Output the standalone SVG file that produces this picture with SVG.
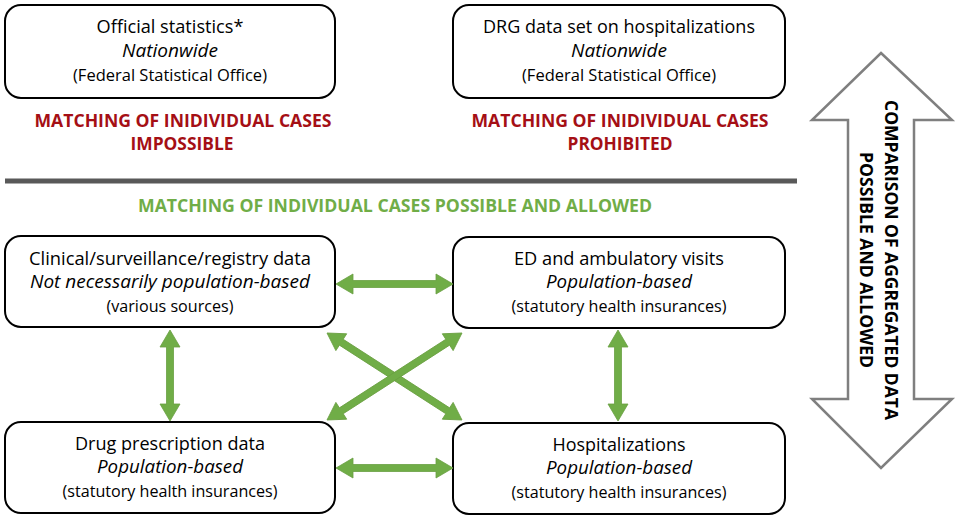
<svg xmlns="http://www.w3.org/2000/svg" width="957" height="519" viewBox="0 0 957 519">
<style>
  .box { fill: #ffffff; stroke: #000000; stroke-width: 2; }
  .t { font-family: "Open Sans", "Liberation Sans", sans-serif; fill: #000000; text-anchor: middle; }
  .m { font-size: 19px; }
  .s { font-size: 17px; }
  .i { font-style: italic; }
  .red { font-family: "Open Sans", "Liberation Sans", sans-serif; font-weight: bold; font-size: 18px; fill: #A50F15; text-anchor: middle; }
  .grn { font-family: "Open Sans", "Liberation Sans", sans-serif; font-weight: bold; font-size: 18px; fill: #70AD47; text-anchor: middle; }
  .gray { font-family: "Open Sans", "Liberation Sans", sans-serif; font-weight: bold; font-size: 18px; fill: #000000; text-anchor: middle; }
  .ga { fill: #70AD47; stroke: #6A9F42; stroke-width: 0.8; }
</style>

<g id="official-statistics">
  <rect class="box" x="5" y="5" width="330" height="93" rx="16"/>
  <text class="t m" x="170" y="33" textLength="147" lengthAdjust="spacingAndGlyphs">Official statistics*</text>
  <text class="t m i" x="170" y="57" textLength="96" lengthAdjust="spacingAndGlyphs">Nationwide</text>
  <text class="t s" x="170" y="81" textLength="194" lengthAdjust="spacingAndGlyphs">(Federal Statistical Office)</text>
</g>

<g id="drg-data">
  <rect class="box" x="453" y="5" width="332" height="93" rx="16"/>
  <text class="t m" x="619" y="33" textLength="272" lengthAdjust="spacingAndGlyphs">DRG data set on hospitalizations</text>
  <text class="t m i" x="619" y="57" textLength="96" lengthAdjust="spacingAndGlyphs">Nationwide</text>
  <text class="t s" x="619" y="81" textLength="194" lengthAdjust="spacingAndGlyphs">(Federal Statistical Office)</text>
</g>

<g id="label-impossible">
  <text class="red" x="183" y="127" textLength="297" lengthAdjust="spacingAndGlyphs">MATCHING OF INIDIVIDUAL CASES</text>
  <text class="red" x="182" y="150" textLength="103" lengthAdjust="spacingAndGlyphs">IMPOSSIBLE</text>
</g>

<g id="label-prohibited">
  <text class="red" x="620" y="127" textLength="297" lengthAdjust="spacingAndGlyphs">MATCHING OF INIDIVIDUAL CASES</text>
  <text class="red" x="620" y="150" textLength="105" lengthAdjust="spacingAndGlyphs">PROHIBITED</text>
</g>

<g id="divider">
  <line x1="5" y1="181" x2="797" y2="181" stroke="#595959" stroke-width="5"/>
</g>

<g id="label-possible">
  <text class="grn" x="395" y="212" textLength="514" lengthAdjust="spacingAndGlyphs">MATCHING OF INDIVIDUAL CASES POSSIBLE AND ALLOWED</text>
</g>

<g id="clinical">
  <rect class="box" x="5" y="236" width="330" height="91" rx="16"/>
  <text class="t m" x="170" y="265" textLength="282" lengthAdjust="spacingAndGlyphs">Clinical/surveillance/registry data</text>
  <text class="t m i" x="170" y="288" textLength="280" lengthAdjust="spacingAndGlyphs">Not necessarily population-based</text>
  <text class="t s" x="170" y="312" textLength="127" lengthAdjust="spacingAndGlyphs">(various sources)</text>
</g>

<g id="ed-visits">
  <rect class="box" x="453" y="237" width="332" height="91" rx="16"/>
  <text class="t m" x="619" y="265" textLength="210" lengthAdjust="spacingAndGlyphs">ED and ambulatory visits</text>
  <text class="t m i" x="619" y="288" textLength="146" lengthAdjust="spacingAndGlyphs">Population-based</text>
  <text class="t s" x="619" y="312" textLength="215" lengthAdjust="spacingAndGlyphs">(statutory health insurances)</text>
</g>

<g id="drug-prescription">
  <rect class="box" x="5" y="422" width="330" height="91" rx="16"/>
  <text class="t m" x="170" y="450" textLength="190" lengthAdjust="spacingAndGlyphs">Drug prescription data</text>
  <text class="t m i" x="170" y="473" textLength="146" lengthAdjust="spacingAndGlyphs">Population-based</text>
  <text class="t s" x="170" y="497" textLength="215" lengthAdjust="spacingAndGlyphs">(statutory health insurances)</text>
</g>

<g id="hospitalizations">
  <rect class="box" x="453" y="423" width="332" height="91" rx="16"/>
  <text class="t m" x="619" y="451" textLength="133" lengthAdjust="spacingAndGlyphs">Hospitalizations</text>
  <text class="t m i" x="619" y="474" textLength="146" lengthAdjust="spacingAndGlyphs">Population-based</text>
  <text class="t s" x="619" y="498" textLength="215" lengthAdjust="spacingAndGlyphs">(statutory health insurances)</text>
</g>

<g id="connectors">
  <polygon class="ga" points="336,284 353,274 353,280.5 436,280.5 436,274 453,284 436,294 436,287.5 353,287.5 353,294"/>
  <polygon class="ga" points="336,468 353,458 353,464.5 436,464.5 436,458 453,468 436,478 436,471.5 353,471.5 353,478"/>
  <polygon class="ga" points="170,330 180,347 173.5,347 173.5,404 180,404 170,421 160,404 166.5,404 166.5,347 160,347"/>
  <polygon class="ga" points="618,330 628,347 621.5,347 621.5,404 628,404 618,421 608,404 614.5,404 614.5,347 608,347"/>
  <polygon class="ga" transform="translate(327,333) rotate(32.8)" points="0,0 17,-10 17,-3.5 143.6,-3.5 143.6,-10 160.6,0 143.6,10 143.6,3.5 17,3.5 17,10"/>
  <polygon class="ga" transform="translate(462,333) rotate(147.2)" points="0,0 17,-10 17,-3.5 143.6,-3.5 143.6,-10 160.6,0 143.6,10 143.6,3.5 17,3.5 17,10"/>
</g>

<g id="aggregated-comparison">
  <polygon points="881,53 952,120 914,120 914,399 952,399 881,468 812,399 848,399 848,120 812,120" fill="#ffffff" stroke="#7F7F7F" stroke-width="2.5" stroke-linejoin="miter"/>
  <text class="gray" transform="translate(885,260) rotate(90)" x="0" y="0" textLength="320" lengthAdjust="spacingAndGlyphs">COMPARISON OF AGGREGATED DATA</text>
  <text class="gray" transform="translate(860,260) rotate(90)" x="0" y="0" textLength="216" lengthAdjust="spacingAndGlyphs">POSSIBLE AND ALLOWED</text>
</g>
</svg>
